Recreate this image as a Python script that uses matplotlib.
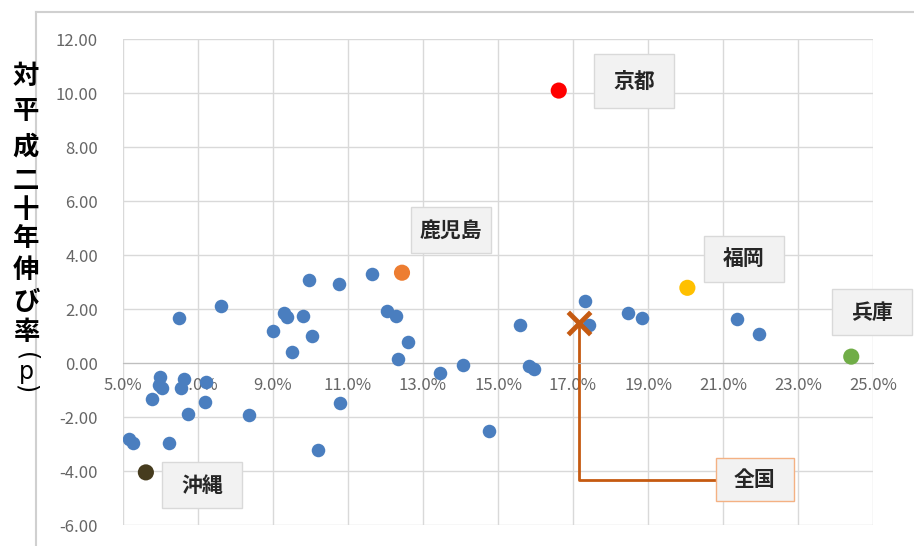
import matplotlib.pyplot as plt
from matplotlib.lines import Line2D
from matplotlib.patches import Rectangle

plt.rcParams['font.family'] = ['Noto Sans CJK JP', 'DejaVu Sans']

# 47 prefectures: x = rate (%), y = change vs H20 (points)
blue_x = [6.49, 7.60, 9.30, 9.38, 9.81, 9.95, 8.99, 10.04, 9.51, 5.99,
          5.95, 6.05, 6.63, 6.55, 7.20, 7.19, 5.77, 6.74, 8.37, 5.17,
          5.26, 6.23, 10.21, 10.77, 11.65, 12.05, 12.27, 12.59, 12.34, 13.45,
          14.07, 10.79, 14.75, 15.59, 15.83, 15.97, 17.32, 17.42, 18.47, 18.83,
          21.36, 21.97]
blue_y = [1.66, 2.11, 1.84, 1.69, 1.76, 3.08, 1.19, 1.00, 0.41, -0.53,
          -0.81, -0.91, -0.59, -0.94, -0.70, -1.43, -1.32, -1.88, -1.91, -2.83,
          -2.97, -2.95, -3.22, 2.93, 3.30, 1.94, 1.74, 0.77, 0.15, -0.36,
          -0.08, -1.47, -2.50, 1.40, -0.11, -0.21, 2.29, 1.40, 1.84, 1.66,
          1.64, 1.09]

hl_names = ['京都', '鹿児島', '福岡', '兵庫', '沖縄']
hl_x = [16.62, 12.44, 20.05, 24.42, 5.61]
hl_y = [10.10, 3.35, 2.79, 0.24, -4.05]
hl_colors = ['#FF0000', '#ED7D31', '#FFC000', '#70AD47', '#463C1E']
# label box centres
lab_x = [18.63, 13.75, 21.56, 24.97, 7.11]
lab_y = [10.45, 4.93, 3.86, 1.89, -4.52]

nat_x, nat_y = 17.17, 1.50
nat_lab_x, nat_lab_y = 21.85, -4.33

xticks = [5, 7, 9, 11, 13, 15, 17, 19, 21, 23, 25]
yticks = [12, 10, 8, 6, 4, 2, 0, -2, -4, -6]

fig = plt.figure(figsize=(9.14, 5.46), dpi=100)
ax = fig.add_axes([123 / 914, 21 / 546, 750 / 914, 485.7 / 546])

ax.set_xlim(5, 25)
ax.set_ylim(-6, 12)
ax.set_xticks(xticks)
ax.set_yticks(yticks)
ax.set_xticklabels(['%.1f%%' % v for v in xticks])
ax.set_yticklabels(['%.2f' % v for v in yticks])
ax.grid(True, color='#d9d9d9', lw=1)
ax.set_axisbelow(True)
for s in ['top', 'right', 'left']:
    ax.spines[s].set_visible(False)
ax.spines['bottom'].set_position(('data', 0))
ax.spines['bottom'].set_color('#bfbfbf')
ax.tick_params(length=0, labelsize=12, colors='#666666')
ax.tick_params(axis='y', pad=18)
ax.tick_params(axis='x', pad=10)

ax.scatter(blue_x, blue_y, s=95, color='#4A7EBF', zorder=3, linewidths=0)
ax.scatter(hl_x, hl_y, s=135, c=hl_colors, zorder=3, linewidths=0)

# national average marker with elbow callout
ax.plot([nat_x, nat_x, 20.81], [nat_y, nat_lab_y, nat_lab_y],
        color='#C55A11', lw=2, zorder=2)
ax.scatter([nat_x], [nat_y], s=260, marker='x', color='#C55A11',
           linewidths=3.5, zorder=4)

bw, bh = 80 / 37.5, 46 / 26.98
for name, x, y in zip(hl_names, lab_x, lab_y):
    h = bh if name != '京都' else 54 / 26.98
    ax.add_patch(Rectangle((x - bw / 2, y - h / 2), bw, h, facecolor='#F2F2F2',
                           edgecolor='#d9d9d9', lw=1, zorder=5, clip_on=False))
    ax.text(x, y, name, ha='center', va='center', fontsize=15,
            fontweight='bold', color='#262626', zorder=6)
nw, nh = 78 / 37.5, 43 / 26.98
ax.add_patch(Rectangle((nat_lab_x - nw / 2, nat_lab_y - nh / 2), nw, nh,
                       facecolor='#F2F2F2', edgecolor='#F4B183', lw=1,
                       zorder=5, clip_on=False))
ax.text(nat_lab_x, nat_lab_y, '全国', ha='center', va='center', fontsize=15,
        fontweight='bold', color='#262626', zorder=6)

# vertical y-axis title
title_chars = ['対', '平', '成', '二', '十', '年', '伸', 'び', '率']
title_py = [76, 112, 147, 182, 210, 238, 271, 303, 333]
for ch, py in zip(title_chars, title_py):
    fig.text(26 / 914, 1 - py / 546, ch, ha='center', va='center',
             fontsize=19, fontweight='bold', color='black')
# (p) with brackets turned for vertical writing
fig.text(26 / 914, 1 - 357 / 546, '(', ha='center', va='center', rotation=-90,
         fontsize=17, color='black', family='DejaVu Sans')
fig.text(26 / 914, 1 - 372 / 546, 'p', ha='center', va='center',
         fontsize=17, color='black', family='DejaVu Sans')
fig.text(26 / 914, 1 - 389 / 546, ')', ha='center', va='center', rotation=-90,
         fontsize=17, color='black', family='DejaVu Sans')

# chart frame lines
fig.add_artist(Line2D([36 / 914, 1], [1 - 12 / 546, 1 - 12 / 546],
                      color='#d0d0d0', lw=1.5))
fig.add_artist(Line2D([36 / 914, 36 / 914], [0, 1 - 12 / 546],
                      color='#d0d0d0', lw=1.5))

fig.savefig('out.png', dpi=100)
